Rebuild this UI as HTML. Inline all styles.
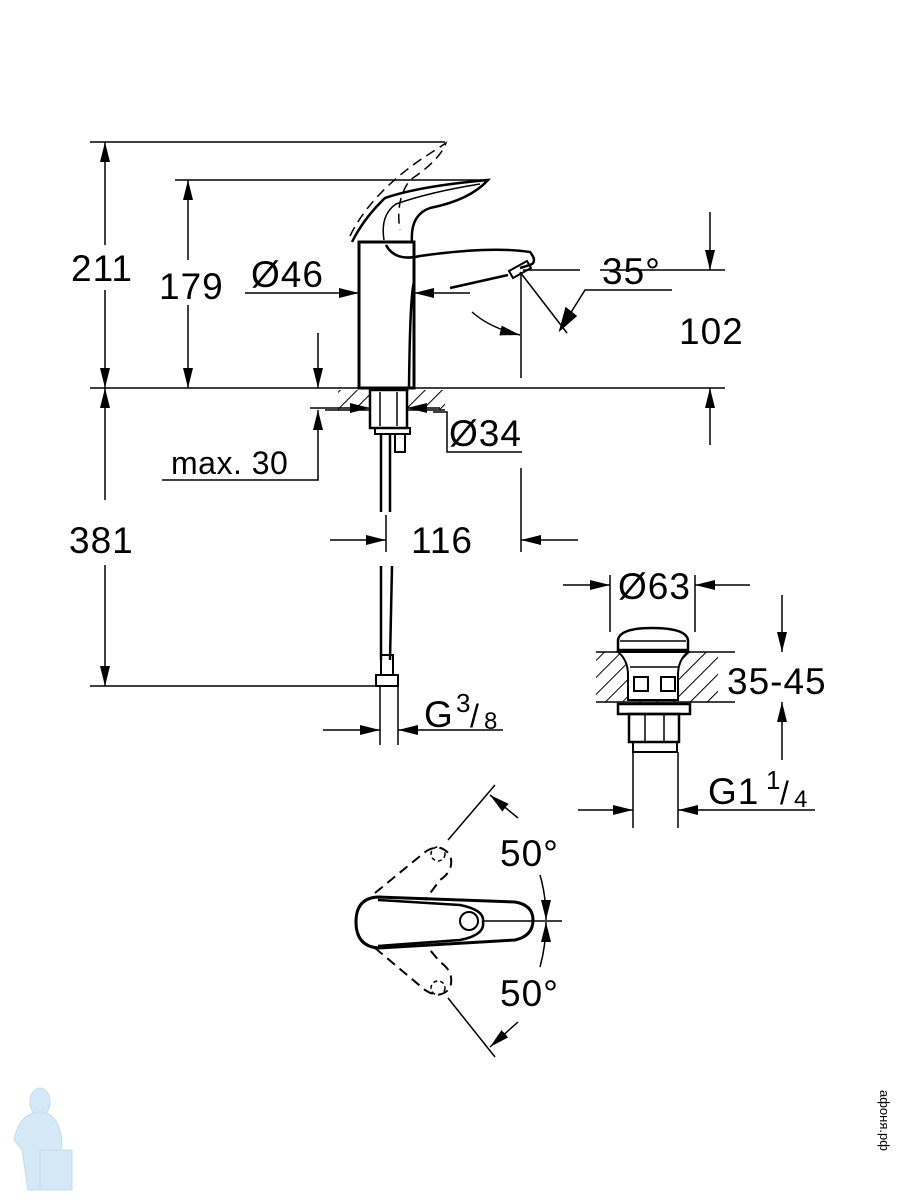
<!DOCTYPE html>
<html><head><meta charset="utf-8"><style>
html,body{margin:0;padding:0;background:#fff;}
svg{display:block;}
text{font-family:"Liberation Sans",sans-serif;fill:#000;}
</style></head><body>
<svg width="900" height="1200" viewBox="0 0 900 1200" xmlns="http://www.w3.org/2000/svg">
<defs>
<marker id="a" markerWidth="20" markerHeight="10" refX="20" refY="5" orient="auto" markerUnits="userSpaceOnUse">
<path d="M0,0 L20,5 L0,10 Z" fill="#000"/></marker>
<pattern id="h" width="12" height="12" patternUnits="userSpaceOnUse" patternTransform="rotate(45)">
<line x1="0" y1="0" x2="0" y2="12" stroke="#000" stroke-width="2"/></pattern>
</defs>
<g stroke="#000" stroke-width="1.5" fill="none">
<line x1="90" y1="142" x2="445" y2="142"/>
<line x1="175" y1="180" x2="488" y2="180"/>
<line x1="90" y1="388" x2="725" y2="388"/>
<line x1="90" y1="686" x2="380" y2="686"/>
<line x1="105" y1="245" x2="105" y2="142" marker-end="url(#a)"/>
<line x1="105" y1="290" x2="105" y2="388" marker-end="url(#a)"/>
<line x1="105" y1="500" x2="105" y2="388" marker-end="url(#a)"/>
<line x1="105" y1="565" x2="105" y2="686" marker-end="url(#a)"/>
<line x1="188" y1="260" x2="188" y2="180" marker-end="url(#a)"/>
<line x1="188" y1="305" x2="188" y2="388" marker-end="url(#a)"/>
<line x1="245" y1="293" x2="359" y2="293" marker-end="url(#a)"/>
<line x1="470" y1="293" x2="414" y2="293" marker-end="url(#a)"/>
<rect x="359" y="242" width="55" height="146" stroke-width="3" fill="#fff"/>
<path d="M414 282 Q410 295 409 388" stroke-width="2.5"/>
<path d="M352 242 Q364 218 385 198 Q420 186 488 180 Q470 200 430 208 Q410 215 412 242" stroke-width="2.5"/>
<path d="M384 240 Q380 215 396 204 Q430 192 480 184" stroke-width="1.5"/>
<path d="M386 245 Q395 262 420 256 Q490 246 530 252 Q538 262 530 265 L520 268" stroke-width="2.5"/>
<path d="M509 271 L527 261 L531 268 L513 278 Z" stroke-width="2"/>
<path d="M450 288 L508 275" stroke-width="2.5"/>
<path d="M350 236 Q370 195 420 160 L446 143 Q440 160 410 180 Q395 200 400 230" stroke-dasharray="10,6" stroke-width="1.5"/>
<line x1="523" y1="270" x2="580" y2="270"/>
<line x1="520" y1="272" x2="567" y2="333"/>
<line x1="521" y1="275" x2="521" y2="378"/>
<path d="M472 312 Q490 328 520 335" marker-end="url(#a)"/>
<path d="M672 290 L585 290 L560 330" />
<polygon points="560,330 566,308 576,316" fill="#000"/>
<line x1="600" y1="270" x2="725" y2="270"/>
<line x1="710" y1="212" x2="710" y2="270" marker-end="url(#a)"/>
<line x1="710" y1="445" x2="710" y2="388" marker-end="url(#a)"/>
<rect x="338" y="390" width="34" height="20" fill="url(#h)" stroke="none"/>
<rect x="408" y="390" width="37" height="20" fill="url(#h)" stroke="none"/>
<line x1="325" y1="410" x2="445" y2="410"/>
<rect x="370" y="390" width="37" height="38" stroke-width="2.5" fill="#fff"/>
<line x1="380" y1="392" x2="380" y2="426"/><line x1="397" y1="392" x2="397" y2="426"/>
<rect x="375" y="428" width="35" height="6" stroke-width="2"/>
<rect x="395" y="434" width="10" height="18" stroke-width="2"/>
<line x1="381" y1="434" x2="381" y2="512" stroke-width="2.5"/>
<line x1="390" y1="434" x2="390" y2="512" stroke-width="2.5"/>
<line x1="381" y1="566" x2="381" y2="660" stroke-width="2.5"/>
<line x1="392" y1="566" x2="390" y2="660" stroke-width="2.5"/>
<rect x="381" y="655" width="12" height="20" stroke-width="2"/>
<rect x="376" y="675" width="22" height="11" stroke-width="2"/>
<line x1="380" y1="686" x2="380" y2="745"/><line x1="398" y1="686" x2="398" y2="745"/>
<line x1="310" y1="408" x2="370" y2="408" marker-end="url(#a)"/>
<line x1="440" y1="408" x2="407" y2="408" marker-end="url(#a)"/>
<path d="M433 412 L447 412 L447 452 L522 452"/>
<line x1="318" y1="333" x2="318" y2="388" marker-end="url(#a)"/>
<path d="M162 480 L318 480 L318 410" marker-end="url(#a)"/>
<line x1="521" y1="468" x2="521" y2="552"/>
<line x1="386" y1="515" x2="386" y2="552"/>
<line x1="330" y1="540" x2="386" y2="540" marker-end="url(#a)"/>
<line x1="578" y1="540" x2="521" y2="540" marker-end="url(#a)"/>
<line x1="323" y1="730" x2="380" y2="730" marker-end="url(#a)"/>
<line x1="503" y1="730" x2="398" y2="730" marker-end="url(#a)"/>
<line x1="610" y1="575" x2="610" y2="632"/><line x1="695" y1="575" x2="695" y2="632"/>
<line x1="563" y1="585" x2="610" y2="585" marker-end="url(#a)"/>
<line x1="750" y1="585" x2="695" y2="585" marker-end="url(#a)"/>
<rect x="596" y="652" width="122" height="50" fill="url(#h)" stroke="none"/>
<path d="M618 652 Q628 660 628 675 L628 700 L678 700 L678 675 Q678 660 688 652 Z" fill="#fff" stroke="#000" stroke-width="2"/>
<path d="M618 640 Q620 628 652 628 Q686 628 688 640 L688 650 L618 650 Z" fill="#fff" stroke-width="2.5"/>
<line x1="620" y1="641" x2="686" y2="641"/>
<line x1="596" y1="652" x2="735" y2="652"/><line x1="596" y1="702" x2="735" y2="702"/>
<rect x="634" y="677" width="14" height="14" stroke-width="2"/><rect x="661" y="677" width="14" height="14" stroke-width="2"/>
<line x1="630" y1="667" x2="678" y2="667"/>
<rect x="618" y="704" width="72" height="10" stroke-width="2.5" fill="#fff"/>
<rect x="629" y="714" width="50" height="28" stroke-width="2.5"/>
<line x1="645" y1="714" x2="645" y2="742"/><line x1="664" y1="714" x2="664" y2="742"/>
<rect x="633" y="742" width="44" height="10" stroke-width="2"/>
<line x1="633" y1="752" x2="633" y2="828"/><line x1="678" y1="752" x2="678" y2="828"/>
<line x1="578" y1="810" x2="633" y2="810" marker-end="url(#a)"/>
<line x1="815" y1="810" x2="678" y2="810" marker-end="url(#a)"/>
<line x1="782" y1="595" x2="782" y2="652" marker-end="url(#a)"/>
<line x1="782" y1="760" x2="782" y2="702" marker-end="url(#a)"/>
<path d="M378 897 L515 902 Q533 905 533 920 Q533 936 515 940 L378 948 Q356 946 356 922 Q356 898 378 897 Z" stroke-width="3"/>
<path d="M378 900 L460 905 Q485 910 483 922 Q485 935 460 940 L378 946" stroke-width="2.5"/>
<circle cx="469" cy="921" r="9" stroke-width="2"/>
<line x1="483" y1="921" x2="562" y2="921"/>
<path d="M375 893 L425 852 Q440 842 450 855 Q455 870 440 880 L425 900" stroke-dasharray="10,6" stroke-width="2"/>
<path d="M375 948 L425 990 Q440 1000 450 988 Q455 972 440 962 L425 944" stroke-dasharray="10,6" stroke-width="2"/>
<circle cx="438" cy="854" r="7" stroke-dasharray="4,3"/>
<circle cx="438" cy="988" r="7" stroke-dasharray="4,3"/>
<line x1="448" y1="840" x2="495" y2="785"/>
<line x1="448" y1="998" x2="495" y2="1057"/>
<line x1="518" y1="818" x2="490" y2="795" marker-end="url(#a)"/>
<line x1="518" y1="1022" x2="490" y2="1047" marker-end="url(#a)"/>
<path d="M540 875 Q546 895 546 920" marker-end="url(#a)"/>
<path d="M540 967 Q546 945 546 922" marker-end="url(#a)"/>
</g>
<g font-size="37" letter-spacing="1">
<text x="71" y="281">211</text>
<text x="159" y="299">179</text>
<text x="251" y="287">Ø46</text>
<text x="602" y="284">35°</text>
<text x="679" y="344">102</text>
<text x="449" y="446">Ø34</text>
<text x="171" y="474" font-size="32" letter-spacing="0.5">max. 30</text>
<text x="69" y="553">381</text>
<text x="411" y="553">116</text>
<text x="618" y="599">Ø63</text>
<text x="727" y="694">35-45</text>
<text x="424" y="727">G</text><text x="456" y="712" font-size="26">3</text><text x="470" y="727" font-size="32">/</text><text x="484" y="729" font-size="24">8</text>
<text x="708" y="804">G1</text><text x="766" y="789" font-size="26">1</text><text x="780" y="804" font-size="32">/</text><text x="794" y="807" font-size="24">4</text>
<text x="500" y="866">50°</text>
<text x="500" y="1006">50°</text>
</g>
<g fill="#d4e8f6" stroke="#c2dcee">
<ellipse cx="40" cy="1102" rx="10" ry="14"/>
<path d="M14 1140 Q20 1112 40 1112 Q58 1112 62 1140 L60 1160 L48 1190 L28 1190 L22 1150 Z"/>
<path d="M40 1150 L72 1150 L72 1190 L40 1190 Z"/>
</g>
<text x="880" y="1090" font-size="13" fill="#ccc" transform="rotate(90 880 1090)">афоня.рф</text>
</svg>
</body></html>
